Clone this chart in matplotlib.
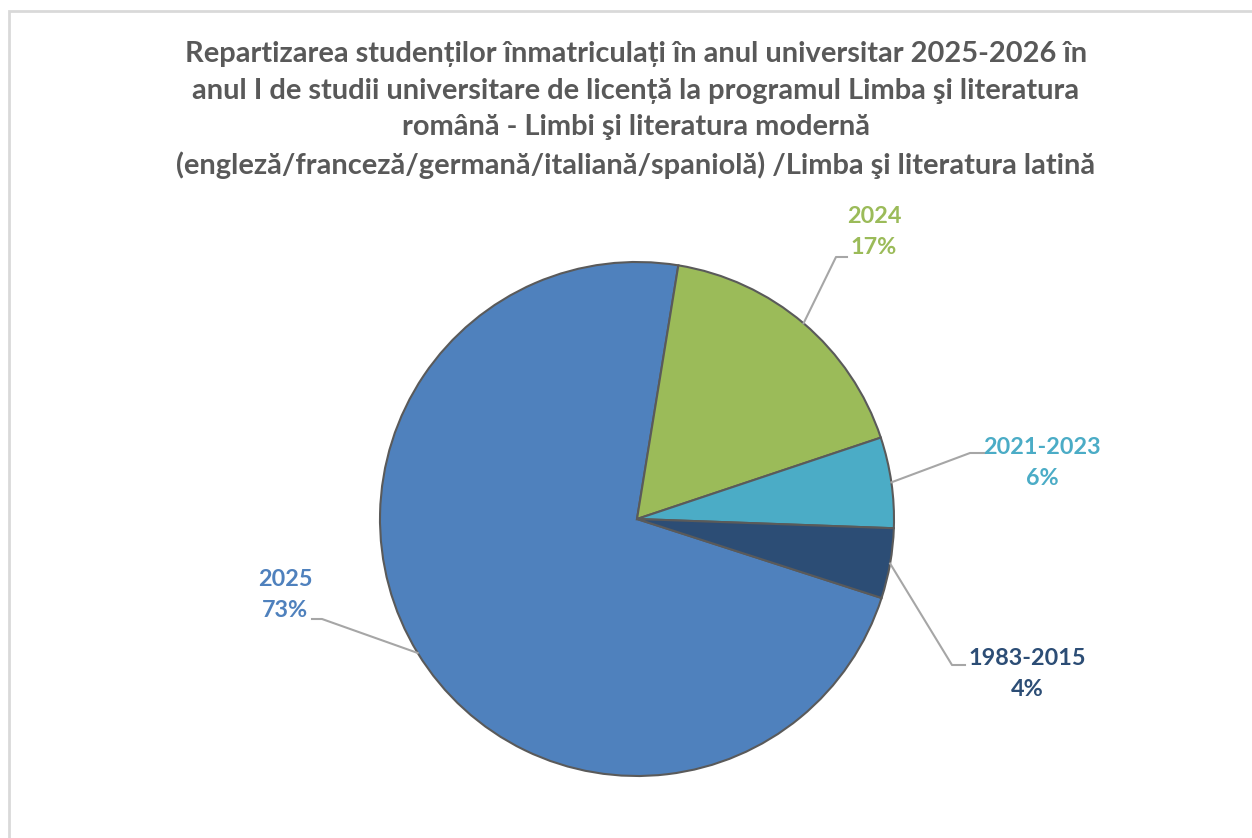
import numpy as np
import matplotlib.pyplot as plt
from matplotlib.patches import Rectangle

# date
categories = ['2025', '2024', '2021-2023', '1983-2015']
values = [72.6, 17.3, 5.7, 4.4]
colors = ['#4F81BD', '#9BBB59', '#4BACC6', '#2C4D75']
title = ('Repartizarea studenților înmatriculați în anul universitar 2025-2026 în\n'
         'anul I de studii universitare de licență la programul Limba şi literatura\n'
         'română - Limbi şi literatura modernă\n'
         '(engleză/franceză/germană/italiană/spaniolă) /Limba şi literatura latină')

W, H = 1252, 838
fig = plt.figure(figsize=(W / 100, H / 100), dpi=100)
ax = fig.add_axes([0, 0, 1, 1])

# chenar
ax.add_patch(Rectangle((9, -20), W + 40, H - 11 + 20, fill=False,
                       edgecolor='#D9D9D9', linewidth=2))

cx, cy, r = 637, H - 519, 257
wedges, _ = ax.pie(values, colors=colors, startangle=-17.9, counterclock=False,
                   center=(cx, cy), radius=r, frame=True,
                   wedgeprops=dict(edgecolor='#5A5A5A', linewidth=1.5))
ax.set_xlim(0, W)
ax.set_ylim(0, H)
ax.set_aspect('equal')
ax.axis('off')

ax.text(636, H - 110, title, ha='center', va='center', fontsize=20.9,
        fontweight='bold', color='#595959', family='Lato', linespacing=1.49)

# etichete: cot, capat orizontal, centrul textului
layout = {
    '2025': ((322, 619), (312, 619), (285, 595)),
    '2024': ((836, 257), (847, 257), (874, 232)),
    '2021-2023': ((970, 453), (985, 453), (1042, 463)),
    '1983-2015': ((952, 665), (965, 665), (1027, 674)),
}
total = sum(values)
for w, cat, v, col in zip(wedges, categories, values, colors):
    mid = np.deg2rad((w.theta1 + w.theta2) / 2)
    x0, y0 = cx + r * np.cos(mid), cy + r * np.sin(mid)
    (ex, ey), (hx, hy), (tx, ty) = layout[cat]
    ax.plot([x0, ex, hx], [y0, H - ey, H - hy], color='#A6A6A6', linewidth=1.5)
    pct = f'{round(v / total * 100)}%'
    ax.text(tx, H - ty, f'{cat}\n{pct}', ha='center', va='center', fontsize=16.8,
            fontweight='bold', color=col, family='Lato', linespacing=1.53)

fig.savefig('out.png', dpi=100)
